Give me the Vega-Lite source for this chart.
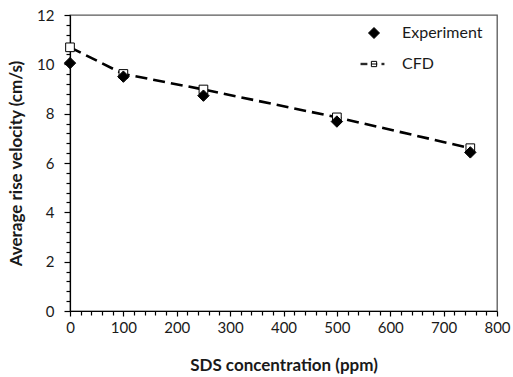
{
  "$schema": "https://vega.github.io/schema/vega-lite/v6.json",
  "autosize": {"type": "none"},
  "width": 427,
  "height": 296,
  "padding": {"left": 70, "top": 15, "right": 16, "bottom": 66},
  "background": "white",
  "config": {
    "view": {"stroke": "#595959", "strokeWidth": 1.3},
    "font": "Lato",
    "axis": {"grid": false, "domainColor": "black", "domainWidth": 1.2, "tickColor": "black", "tickWidth": 1.2, "labelColor": "#1a1a1a", "titleColor": "#1a1a1a", "labelFont": "Lato", "titleFont": "Lato", "labelFontSize": 15, "titleFontSize": 17, "titleFontWeight": "bold", "labelOverlap": false, "labelFlush": false, "labelBound": false}
  },
  "data": {
    "values": [
      {"conc": 0, "velocity": 10.69, "series": "CFD"},
      {"conc": 100, "velocity": 9.61, "series": "CFD"},
      {"conc": 250, "velocity": 8.98, "series": "CFD"},
      {"conc": 500, "velocity": 7.85, "series": "CFD"},
      {"conc": 750, "velocity": 6.6, "series": "CFD"},
      {"conc": 0, "velocity": 10.05, "series": "Experiment"},
      {"conc": 100, "velocity": 9.5, "series": "Experiment"},
      {"conc": 250, "velocity": 8.73, "series": "Experiment"},
      {"conc": 500, "velocity": 7.68, "series": "Experiment"},
      {"conc": 750, "velocity": 6.43, "series": "Experiment"}
    ]
  },
  "encoding": {
    "x": {
      "field": "conc", "type": "quantitative",
      "scale": {"domain": [0, 800], "nice": false, "zero": false},
      "axis": {
        "title": "SDS concentration (ppm)",
        "values": [0,20,40,60,80,100,120,140,160,180,200,220,240,260,280,300,320,340,360,380,400,420,440,460,480,500,520,540,560,580,600,620,640,660,680,700,720,740,760,780,800],
        "labelExpr": "datum.value % 100 === 0 ? format(datum.value, 'd') : ''",
        "tickSize": {"condition": {"test": "datum.value % 100 === 0", "value": 5}, "value": 4},
        "labelPadding": 4,
        "titlePadding": 22
      }
    },
    "y": {
      "field": "velocity", "type": "quantitative",
      "scale": {"domain": [0, 12], "nice": false},
      "axis": {
        "title": "Average rise velocity (cm/s)",
        "values": [0,0.4,0.8,1.2,1.6,2,2.4,2.8,3.2,3.6,4,4.4,4.8,5.2,5.6,6,6.4,6.8,7.2,7.6,8,8.4,8.8,9.2,9.6,10,10.4,10.8,11.2,11.6,12],
        "labelExpr": "datum.value % 2 === 0 ? format(datum.value, 'd') : ''",
        "tickSize": {"condition": {"test": "datum.value % 2 === 0", "value": 6}, "value": 4},
        "labelPadding": 10,
        "titlePadding": 11
      }
    },
    "shape": {"field": "series", "type": "nominal", "scale": {"domain": ["Experiment", "CFD"], "range": ["diamond", "M-2.45,-0.12H-1.2M-2.45,0.12H-1.2M-0.48,-0.48H0.48V0.48H-0.48ZM-0.48,0H0.6M1.36,-0.12H1.9M1.36,0.12H1.9"]},
      "legend": {
        "title": null, "orient": "none", "legendX": 296, "legendY": 10,
        "labelFontSize": 16, "labelColor": "#1a1a1a", "labelFont": "Lato",
        "symbolSize": 121, "symbolStrokeWidth": 1, "symbolStrokeColor": "black", "symbolOpacity": 1,
        "rowPadding": 15, "labelOffset": 20
      }},
    "fill": {"field": "series", "type": "nominal", "scale": {"domain": ["Experiment", "CFD"], "range": ["black", "white"]}}
  },
  "layer": [
    {
      "transform": [{"filter": "datum.series === 'CFD'"}],
      "mark": {"type": "line", "color": "black", "strokeWidth": 2.6, "strokeDash": [12, 6], "fill": null},
      "encoding": {"shape": {"value": "circle"}, "fill": {"value": null}}
    },
    {
      "transform": [{"filter": "datum.series === 'CFD'"}],
      "mark": {"type": "point", "size": 75, "strokeWidth": 1, "stroke": "black", "opacity": 1, "filled": false},
      "encoding": {"shape": {"value": "square"}}
    },
    {
      "transform": [{"filter": "datum.series === 'Experiment'"}],
      "mark": {"type": "point", "size": 130, "strokeWidth": 1, "stroke": "black", "opacity": 1, "filled": false}
    }
  ]
}
